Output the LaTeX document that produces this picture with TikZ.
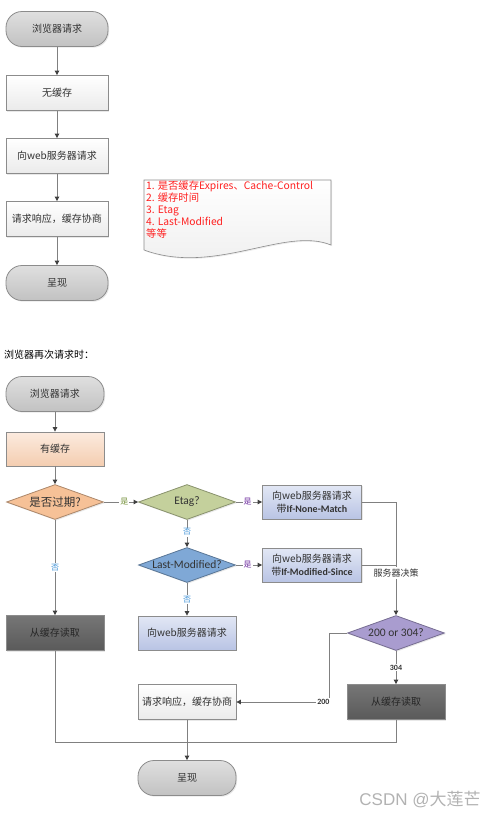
\documentclass[tikz,border=0pt]{standalone}
\usepackage{fontspec}
\setmainfont{Noto Sans CJK SC}
\newfontfamily\lat{Carlito}
\newfontfamily\arialf{Liberation Sans}
\usetikzlibrary{shapes.geometric,arrows.meta,shadows}
\definecolor{lgray}{HTML}{808080}
\definecolor{bgray}{HTML}{8C8C8C}
\definecolor{txt}{HTML}{333333}
\definecolor{peachT}{HTML}{FCEBDF}
\definecolor{peachB}{HTML}{F4CDB0}
\definecolor{orangeD}{HTML}{F6C197}
\definecolor{greenD}{HTML}{C4D09C}
\definecolor{blueD}{HTML}{7FA8D6}
\definecolor{purpleD}{HTML}{A99CCF}
\definecolor{lblueT}{HTML}{E2E7F5}
\definecolor{lblueB}{HTML}{B9C4E4}
\definecolor{darkT}{HTML}{767676}
\definecolor{darkB}{HTML}{5A5A5A}
\definecolor{gLab}{HTML}{76923C}
\definecolor{pLab}{HTML}{7030A0}
\definecolor{bLab}{HTML}{3A8FD6}
\definecolor{redT}{HTML}{FF2020}
\tikzset{
  base/.style={draw=bgray, line width=0.8pt, text=txt, font=\fontsize{10}{13}\selectfont, inner sep=1pt,
    drop shadow={opacity=0.18, shadow xshift=1.2pt, shadow yshift=-1.2pt}},
  term/.style={base, rectangle, rounded corners=16pt, minimum width=#1, minimum height=35pt,
    top color=gray!25, bottom color=gray!48},
  term/.default=102pt,
  wbox/.style={base, rectangle, minimum width=#1, minimum height=35pt, top color=white, bottom color=gray!16},
  wbox/.default=102pt,
  pbox/.style={base, rectangle, minimum width=98pt, minimum height=34pt, top color=peachT, bottom color=peachB},
  bbox/.style={base, rectangle, minimum width=#1, minimum height=34pt, top color=lblueT, bottom color=lblueB, align=center},
  bbox/.default=98pt,
  dbox/.style={base, rectangle, minimum width=98pt, minimum height=35pt, top color=darkT, bottom color=darkB, text=black!85},
  dia/.style={draw=#1!70!black, line width=0.8pt, fill=#1, diamond, aspect=2.77, inner sep=0pt,
    minimum width=97pt, minimum height=35pt, text=txt, font=\fontsize{11.5}{13}\selectfont,
    drop shadow={opacity=0.18, shadow xshift=1.2pt, shadow yshift=-1.2pt}},
  arr/.style={draw=lgray, line width=0.8pt, -{Triangle[length=4.5pt,width=4.5pt,color=black!75]}},
  ln/.style={draw=lgray, line width=0.8pt},
  lab/.style={fill=white, inner sep=1pt, font=\fontsize{8}{9}\selectfont},
}
\begin{document}
\begin{tikzpicture}[x=1pt,y=-1pt]
\useasboundingbox (0,0) rectangle (499,820);
% ---- first flow ----
\node[term] (s1) at (57,29) {浏览器请求};
\node[wbox] (b1) at (57,93) {无缓存};
\node[wbox] (b2) at (57,156) {向web服务器请求};
\node[wbox] (b3) at (57,219) {请求响应，缓存协商};
\node[term] (s2) at (57,283) {呈现};
\draw[arr] (s1) -- (b1);
\draw[arr] (b1) -- (b2);
\draw[arr] (b2) -- (b3);
\draw[arr] (b3) -- (s2);
% note
\draw[draw=bgray, line width=0.6pt, top color=white, bottom color=gray!14,
  drop shadow={opacity=0.15, shadow xshift=1.2pt, shadow yshift=-1.2pt}]
  (144,180) -- (331,180) -- (331,245) .. controls (285,226) and (215,276) .. (144,250) -- cycle;
\node[anchor=north west, align=left, text=redT, inner sep=0pt, font=\fontsize{10.3}{12}\selectfont] (note) at (146,181)
  {1. 是否缓存Expires、Cache-Control\\2. 缓存时间\\3. Etag\\4. Last-Modified\\等等};
% ---- second flow ----
\node[anchor=west, inner sep=0pt, font=\fontsize{10}{12}\selectfont] (title) at (4,355) {浏览器再次请求时：};
\node[term=98pt] (s3) at (55,394) {浏览器请求};
\node[pbox] (c1) at (55,449) {有缓存};
\node[dia=orangeD] (d1) at (55,502) {是否过期?};
\node[dia=greenD] (d2) at (187,502) {\lat Etag?};
\node[bbox=99pt] (e1) at (312,502) {向web服务器请求\\带{\lat\bfseries If-None-Match}};
\node[dia=blueD] (d3) at (187,565) {\lat Last-Modified?};
\node[bbox=99pt] (e2) at (312,565) {向web服务器请求\\带{\lat\bfseries If-Modified-Since}};
\node[bbox] (e3) at (187,633) {向web服务器请求};
\node[dbox] (g1) at (55,633) {从缓存读取};
\node[dia=purpleD] (d4) at (396,633) {\lat 200 or 304?};
\node[dbox] (g2) at (396,702) {从缓存读取};
\node[wbox=98pt] (w1) at (187,702) {请求响应，缓存协商};
\node[term=98pt] (s4) at (187,778) {呈现};
\coordinate (k1) at (396,565);
\coordinate (k2) at (329,633);
\coordinate (j) at (187,742);

\draw[arr] (s3) -- (c1);
\draw[arr] (c1) -- (d1);
\draw[arr] (d1) -- node[lab, text=gLab, pos=0.6] {是} (d2);
\draw[arr] (d2) -- node[lab, text=pLab, pos=0.45] {是} (e1);
\draw[arr] (d2) -- node[lab, text=bLab, pos=0.45] {否} (d3);
\draw[arr] (d3) -- node[lab, text=pLab, pos=0.45] {是} (e2);
\draw[arr] (d3) -- node[lab, text=bLab, pos=0.5] {否} (e3);
\draw[arr] (d1) -- node[lab, text=bLab, pos=0.5] {否} (g1);
\draw[arr] (e1.east) -| (d4.north);
\draw[ln] (e2.east) -- (k1);
\node[fill=white, inner sep=1.5pt, text=txt, font=\fontsize{9}{10}\selectfont] (dec) at (396,573) {服务器决策};
\draw[arr] (d4) -- node[lab, text=txt, pos=0.5] {\lat\bfseries 304} (g2);
\draw[arr] (d4.west) -- (k2) |- node[lab, text=txt, pos=0.53] {\lat\bfseries 200} (w1.east);
\draw[ln] (g1.south) |- (j);
\draw[ln] (g2.south) |- (j);
\draw[arr] (w1) -- (s4);
\node[text=gray!60, inner sep=0pt, font=\fontsize{17}{18}\selectfont] (wm) at (420,800) {{\arialf CSDN @}大莲芒};
\end{tikzpicture}
\end{document}
